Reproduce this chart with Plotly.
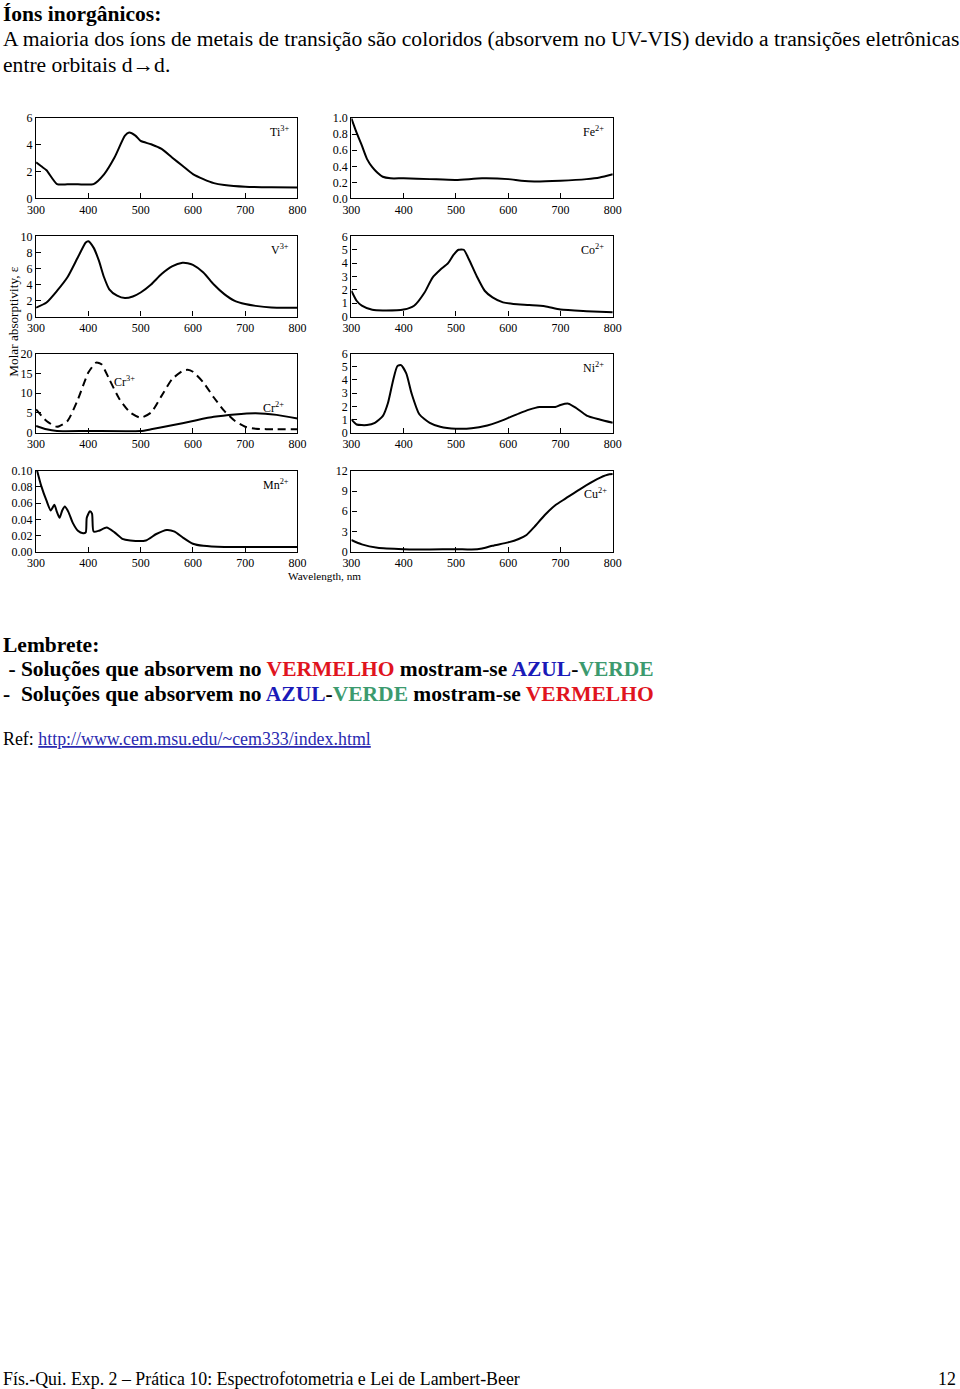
import plotly.graph_objects as go

# Target positions below are in output-picture pixels (960x1389).
# Empirically the page is captured over (960+16)x(1389+16) css px with the
# default 8px body margin, so positions are converted accordingly.
OUT_W, OUT_H = 960, 1389
CAP_W, CAP_H = 976, 1405
OFF = 8
W, H = CAP_W - OFF, CAP_H - OFF
SX, SY = CAP_W / OUT_W, CAP_H / OUT_H

# ---------------- data ----------------
ti_x = [300, 310, 320, 340, 360, 380, 410, 430, 450, 470, 478, 490, 500, 520, 540, 560, 580, 600, 620, 640, 660, 700, 750, 800]
ti_y = [2.7, 2.4, 2.1, 1.07, 1.05, 1.05, 1.07, 1.8, 3.06, 4.7, 4.93, 4.7, 4.3, 4.05, 3.7, 3.06, 2.44, 1.82, 1.44, 1.14, 1.0, 0.87, 0.83, 0.82]

fe_x = [300, 310, 320, 330, 340, 350, 360, 375, 400, 450, 500, 550, 600, 625, 650, 700, 750, 775, 800]
fe_y = [1.0, 0.82, 0.66, 0.49, 0.39, 0.32, 0.27, 0.25, 0.25, 0.24, 0.23, 0.25, 0.24, 0.22, 0.21, 0.22, 0.24, 0.26, 0.30]

v_x = [300, 320, 340, 360, 380, 395, 400, 410, 420, 430, 440, 455, 470, 485, 500, 520, 540, 560, 580, 590, 600, 620, 640, 660, 680, 700, 720, 750, 800]
v_y = [1.1, 1.75, 3.2, 4.9, 7.4, 9.25, 9.4, 8.6, 7.0, 4.9, 3.4, 2.6, 2.3, 2.5, 3.0, 4.0, 5.3, 6.25, 6.7, 6.65, 6.45, 5.5, 4.0, 2.8, 1.95, 1.55, 1.33, 1.13, 1.1]

co_x = [300, 310, 320, 340, 360, 400, 420, 440, 455, 470, 485, 495, 505, 515, 525, 540, 555, 570, 590, 610, 640, 670, 700, 750, 800]
co_y = [1.93, 1.18, 0.81, 0.5, 0.45, 0.52, 0.81, 1.8, 2.9, 3.5, 4.0, 4.6, 5.0, 5.0, 4.27, 3.0, 1.93, 1.43, 1.06, 0.94, 0.86, 0.77, 0.52, 0.4, 0.32]

cr3_x = [300, 320, 340, 360, 380, 400, 415, 425, 440, 460, 480, 500, 520, 540, 560, 580, 590, 600, 620, 640, 660, 680, 700, 720, 760, 800]
cr3_y = [5.9, 2.95, 1.5, 2.95, 8.4, 15.2, 17.7, 17.3, 13.5, 8.4, 5.1, 3.8, 5.1, 9.3, 13.5, 15.6, 15.9, 15.4, 12.7, 8.9, 5.5, 3.0, 1.5, 1.0, 0.85, 0.85]

cr2_x = [300, 320, 340, 400, 500, 520, 560, 600, 640, 680, 720, 760, 800]
cr2_y = [1.7, 0.85, 0.42, 0.42, 0.42, 0.85, 1.86, 2.95, 4.0, 4.6, 4.9, 4.5, 3.6]

ni_x = [300, 310, 330, 345, 360, 370, 380, 388, 395, 405, 415, 430, 450, 470, 500, 530, 560, 580, 600, 620, 640, 660, 690, 700, 715, 730, 750, 775, 800]
ni_y = [1.0, 0.62, 0.58, 0.75, 1.25, 2.25, 4.0, 5.05, 5.12, 4.5, 3.0, 1.4, 0.75, 0.45, 0.3, 0.33, 0.55, 0.8, 1.12, 1.45, 1.75, 1.95, 1.95, 2.1, 2.2, 1.87, 1.3, 1.0, 0.75]

mn_x = [302, 310, 320, 328, 335, 340, 345, 350, 355, 362, 370, 380, 390, 395, 397, 403, 407, 410, 420, 435, 450, 465, 480, 510, 530, 550, 565, 580, 600, 620, 660, 700, 800]
mn_y = [0.100, 0.081, 0.063, 0.051, 0.058, 0.049, 0.042, 0.051, 0.056, 0.049, 0.036, 0.026, 0.023, 0.024, 0.042, 0.050, 0.047, 0.025, 0.026, 0.030, 0.024, 0.016, 0.014, 0.014, 0.022, 0.027, 0.025, 0.018, 0.010, 0.0074, 0.006, 0.006, 0.006]

cu_x = [300, 320, 350, 400, 450, 500, 530, 550, 570, 600, 620, 635, 650, 670, 690, 710, 740, 770, 790, 800]
cu_y = [1.75, 1.1, 0.6, 0.4, 0.35, 0.4, 0.35, 0.5, 0.9, 1.4, 1.9, 2.5, 3.7, 5.45, 6.9, 7.9, 9.4, 10.75, 11.4, 11.5]

x_ticks = [300, 400, 500, 600, 700, 800]

panels = [
    # name, label, series list, yrange, yticks, ytick text
    ("Ti", "Ti<sup>3+</sup>", [(ti_x, ti_y, "solid")], [0, 6], [0, 2, 4, 6], ["0", "2", "4", "6"]),
    ("Fe", "Fe<sup>2+</sup>", [(fe_x, fe_y, "solid")], [0, 1.0], [0, 0.2, 0.4, 0.6, 0.8, 1.0], ["0.0", "0.2", "0.4", "0.6", "0.8", "1.0"]),
    ("V", "V<sup>3+</sup>", [(v_x, v_y, "solid")], [0, 10], [0, 2, 4, 6, 8, 10], ["0", "2", "4", "6", "8", "10"]),
    ("Co", "Co<sup>2+</sup>", [(co_x, co_y, "solid")], [0, 6], [0, 1, 2, 3, 4, 5, 6], ["0", "1", "2", "3", "4", "5", "6"]),
    ("Cr", None, [(cr3_x, cr3_y, "dash"), (cr2_x, cr2_y, "solid")], [0, 20], [0, 5, 10, 15, 20], ["0", "5", "10", "15", "20"]),
    ("Ni", "Ni<sup>2+</sup>", [(ni_x, ni_y, "solid")], [0, 6], [0, 1, 2, 3, 4, 5, 6], ["0", "1", "2", "3", "4", "5", "6"]),
    ("Mn", "Mn<sup>2+</sup>", [(mn_x, mn_y, "solid")], [0, 0.10], [0, 0.02, 0.04, 0.06, 0.08, 0.10], ["0.00", "0.02", "0.04", "0.06", "0.08", "0.10"]),
    ("Cu", None, [(cu_x, cu_y, "solid")], [0, 12], [0, 3, 6, 9, 12], ["0", "3", "6", "9", "12"]),
]

# ---------------- layout geometry (output pixels) ----------------
cols = [(35, 297), (351, 613)]
rows = [(119, 199), (237, 317), (354, 433), (471, 552)]

SERIF = "Liberation Serif, Times New Roman, serif"

def px(x):
    return (x * SX - OFF) / W

def py(y):
    return 1 - (y * SY - OFF) / H

def fs(size):
    return size * SX

fig = go.Figure()
layout = dict(
    width=W, height=H, margin=dict(l=0, r=0, t=0, b=0),
    paper_bgcolor="white", plot_bgcolor="white", showlegend=False,
    font=dict(family=SERIF, color="black"),
)
annotations = []

for i, (name, label, series, yr, yt, ytt) in enumerate(panels):
    r, c = divmod(i, 2)
    n = i + 1
    xa = "xaxis" if n == 1 else f"xaxis{n}"
    ya = "yaxis" if n == 1 else f"yaxis{n}"
    xref = "x" if n == 1 else f"x{n}"
    yref = "y" if n == 1 else f"y{n}"
    for sx, sy, dash in series:
        fig.add_trace(go.Scatter(
            x=sx, y=sy, mode="lines", xaxis=xref, yaxis=yref,
            line=dict(color="black", width=2, shape="spline", smoothing=0.6,
                      dash="8px,5px" if dash == "dash" else "solid"),
            hoverinfo="skip"))
    axis_common = dict(showline=True, linecolor="black", linewidth=1.3, mirror=True,
                       ticks="inside", ticklen=5, tickcolor="black", tickwidth=1,
                       showgrid=False, zeroline=False,
                       tickfont=dict(family=SERIF, size=fs(11.8), color="black"))
    layout[xa] = dict(axis_common, domain=[px(cols[c][0]), px(cols[c][1])],
                      range=[300, 800], tickvals=x_ticks, anchor=yref)
    layout[ya] = dict(axis_common, domain=[py(rows[r][1]), py(rows[r][0])],
                      range=yr, tickvals=yt, ticktext=ytt, anchor=xref)
    if label:
        annotations.append(dict(xref=f"{xref} domain", yref=f"{yref} domain",
                                x=0.975, y=0.95, xanchor="right", yanchor="top",
                                text=label, showarrow=False,
                                font=dict(family=SERIF, size=fs(11.8), color="black")))

# special labels inside Cr and Cu panels
annotations.append(dict(xref="x5", yref="y5", x=470, y=13, text="Cr<sup>3+</sup>",
                        showarrow=False, font=dict(family=SERIF, size=fs(11.8))))
annotations.append(dict(xref="x5", yref="y5", x=755, y=6.3, text="Cr<sup>2+</sup>",
                        showarrow=False, font=dict(family=SERIF, size=fs(11.8))))
annotations.append(dict(xref="x8", yref="y8", x=767, y=8.7, text="Cu<sup>2+</sup>",
                        showarrow=False, font=dict(family=SERIF, size=fs(11.8))))

# axis titles
annotations.append(dict(xref="paper", yref="paper", x=px(12), y=py(322), textangle=-90,
                        xanchor="center", yanchor="middle",
                        text="Molar absorptivity, ε", showarrow=False,
                        font=dict(family=SERIF, size=fs(13))))
annotations.append(dict(xref="paper", yref="paper", x=px(324), y=py(576),
                        xanchor="center", yanchor="middle",
                        text="Wavelength, nm", showarrow=False,
                        font=dict(family=SERIF, size=fs(11))))

# ---------------- document text ----------------
RED, BLUE, GREEN = "#e0141e", "#1a1ab8", "#3c9a6e"

def txt(x, y, text, size=21.5, anchor="left"):
    annotations.append(dict(xref="paper", yref="paper", x=px(x), y=py(y),
                            xanchor=anchor, yanchor="middle", text=text,
                            showarrow=False, align="left", borderpad=0,
                            font=dict(family=SERIF, size=size, color="black")))

txt(1, 15, "<b>Íons inorgânicos:</b>")
txt(1, 40, "A maioria dos íons de metais de transição são coloridos (absorvem no UV-VIS) devido a transições eletrônicas", size=21.6)
txt(1, 66, "entre orbitais d→d.", size=21.6)

def c(col, s):
    return f"<span style='color:{col}'>{s}</span>"

txt(1, 645, "<b>Lembrete:</b>")
txt(1, 669, "<b> - Soluções que absorvem no " + c(RED, "VERMELHO") + " mostram-se "
    + c(BLUE, "AZUL") + "-" + c(GREEN, "VERDE") + "</b>")
txt(1, 694, "<b>-  Soluções que absorvem no " + c(BLUE, "AZUL") + "-" + c(GREEN, "VERDE")
    + " mostram-se " + c(RED, "VERMELHO") + "</b>")
txt(1, 739, "Ref: <span style='color:#2a2ab0'><u>http://www.cem.msu.edu/~cem333/index.html</u></span>", size=17.9)

txt(1, 1378, "Fís.-Qui. Exp. 2 – Prática 10: Espectrofotometria e Lei de Lambert-Beer", size=17.85)
txt(958, 1378, "12", size=17.85, anchor="right")

layout["annotations"] = annotations
fig.update_layout(**layout)
fig.write_html("out.html")
